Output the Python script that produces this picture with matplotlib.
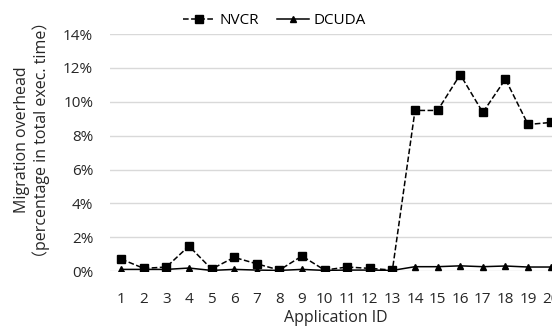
import matplotlib.pyplot as plt
from matplotlib.ticker import PercentFormatter

app_ids = [str(i) for i in range(1, 21)]
nvcr = [0.71, 0.16, 0.24, 1.48, 0.12, 0.81, 0.43, 0.06, 0.89, 0.06,
        0.24, 0.16, 0.06, 9.49, 9.49, 11.61, 9.37, 11.34, 8.66, 8.78]
dcuda = [0.10, 0.10, 0.10, 0.18, 0.04, 0.10, 0.06, 0.04, 0.10, 0.04,
         0.06, 0.06, 0.04, 0.26, 0.26, 0.31, 0.26, 0.30, 0.24, 0.24]
y_ticks = [0, 2, 4, 6, 8, 10, 12, 14]

plt.rcParams['font.family'] = ['Open Sans', 'Noto Sans CJK SC', 'DejaVu Sans']
plt.rcParams['font.size'] = 11

fig = plt.figure(figsize=(5.52, 3.31), dpi=100)
ax = fig.add_axes([0.199, 0.181, 0.819, 0.716])

x = list(range(len(app_ids)))
ax.plot(x, nvcr, linestyle='--', color='black', linewidth=1.1,
        marker='s', markersize=6, label='NVCR')
ax.plot(x, dcuda, linestyle='-', color='black', linewidth=1.1,
        marker='^', markersize=5, label='DCUDA')

ax.set_xlim(-0.5, len(app_ids) - 0.5)
ax.set_ylim(0, 14)
ax.set_xticks(x)
ax.set_xticklabels(app_ids)
ax.set_yticks(y_ticks)
ax.yaxis.set_major_formatter(PercentFormatter(decimals=0))
ax.tick_params(length=0, colors='#262626', labelsize=11)
ax.tick_params(axis='x', pad=15)
ax.tick_params(axis='y', pad=12)
ax.grid(axis='y', color='#d9d9d9', linewidth=1)
ax.set_axisbelow(True)
for s in ax.spines.values():
    s.set_visible(False)

ax.set_xlabel('Application ID', color='#262626', labelpad=2, fontsize=11.5)
ax.set_ylabel('Migration overhead\n（percentage in total exec. time）',
              color='#262626', linespacing=1.2, fontsize=11.5)
ax.yaxis.label.set_va('center')
ax.yaxis.set_label_coords(-0.172, 0.553)

fig.legend(loc='center', bbox_to_anchor=(0.497, 0.937), ncol=2, frameon=False,
           handlelength=2.1, columnspacing=1.2, handletextpad=0.3, fontsize=11)

fig.savefig('out.png', dpi=100)
